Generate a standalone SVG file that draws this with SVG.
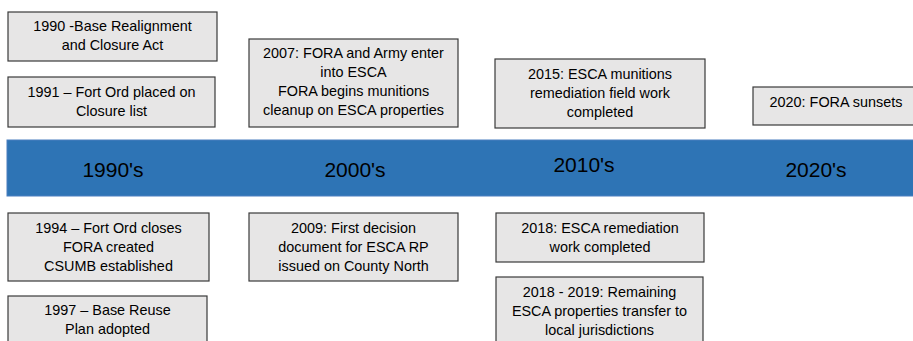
<svg xmlns="http://www.w3.org/2000/svg" width="913" height="341" viewBox="0 0 913 341">
<style>
.box{fill:#E7E6E6;stroke:#3A3A3A;stroke-width:1.2}
.t{font-family:"Liberation Sans",Arial,sans-serif;font-size:14.4px;fill:#000;text-anchor:middle}
.d{font-family:"Liberation Sans",Arial,sans-serif;font-size:21px;fill:#000;text-anchor:middle}
</style>
<rect width="913" height="341" fill="#fff"/>
<g id="timeline">
<rect x="7" y="140" width="910" height="56" fill="#2E74B5" stroke="#4A7FC0" stroke-width="1"/>
<text class="d" x="113" y="177">1990's</text>
<text class="d" x="355" y="177">2000's</text>
<text class="d" x="584" y="172">2010's</text>
<text class="d" x="816" y="177">2020's</text>
</g>
<g id="n1990">
<rect class="box" x="8" y="12" width="209" height="49"/>
<text class="t" x="112.5" y="31">1990 -Base Realignment</text>
<text class="t" x="112.5" y="50">and Closure Act</text>
</g>
<g id="n1991">
<rect class="box" x="8" y="77" width="207" height="50"/>
<text class="t" x="111.5" y="97">1991 – Fort Ord placed on</text>
<text class="t" x="111.5" y="116">Closure list</text>
</g>
<g id="n2007">
<rect class="box" x="249" y="39" width="209" height="88"/>
<text class="t" x="353.5" y="58">2007: FORA and Army enter</text>
<text class="t" x="353.5" y="77">into ESCA</text>
<text class="t" x="353.5" y="96">FORA begins munitions</text>
<text class="t" x="353.5" y="115">cleanup on ESCA properties</text>
</g>
<g id="n2015">
<rect class="box" x="495" y="59" width="210" height="69"/>
<text class="t" x="600" y="79">2015: ESCA munitions</text>
<text class="t" x="600" y="98">remediation field work</text>
<text class="t" x="600" y="117">completed</text>
</g>
<g id="n2020">
<rect class="box" x="753" y="87" width="170" height="38"/>
<text class="t" x="836" y="107">2020: FORA sunsets</text>
</g>
<g id="n1994">
<rect class="box" x="8" y="213" width="201" height="68"/>
<text class="t" x="108.5" y="233">1994 – Fort Ord closes</text>
<text class="t" x="108.5" y="252">FORA created</text>
<text class="t" x="108.5" y="271">CSUMB established</text>
</g>
<g id="n1997">
<rect class="box" x="8" y="296" width="199" height="60"/>
<text class="t" x="107.5" y="315">1997 – Base Reuse</text>
<text class="t" x="107.5" y="334">Plan adopted</text>
</g>
<g id="n2009">
<rect class="box" x="249" y="213" width="209" height="68"/>
<text class="t" x="353.5" y="233">2009: First decision</text>
<text class="t" x="353.5" y="252">document for ESCA RP</text>
<text class="t" x="353.5" y="271">issued on County North</text>
</g>
<g id="n2018">
<rect class="box" x="496" y="213" width="208" height="49"/>
<text class="t" x="600" y="233">2018: ESCA remediation</text>
<text class="t" x="600" y="252">work completed</text>
</g>
<g id="n2018_2019">
<rect class="box" x="496" y="277" width="207" height="80"/>
<text class="t" x="599.5" y="297">2018 - 2019: Remaining</text>
<text class="t" x="599.5" y="316">ESCA properties transfer to</text>
<text class="t" x="599.5" y="335">local jurisdictions</text>
</g>
<g id="connectors"></g>
</svg>
